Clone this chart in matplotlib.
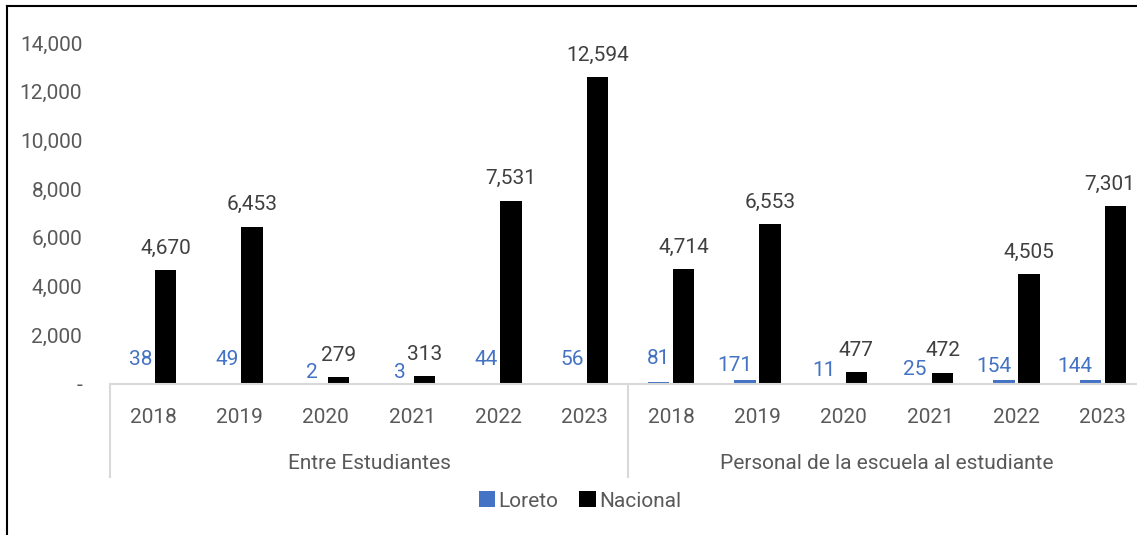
import numpy as np
import matplotlib
matplotlib.use("Agg")
from matplotlib import pyplot as plt
from matplotlib.lines import Line2D
import matplotlib.transforms as mtransforms

plt.rcParams['font.family'] = ['Roboto', 'DejaVu Sans']

# data
years = ['2018', '2019', '2020', '2021', '2022', '2023']
groups = ['Entre Estudiantes', 'Personal de la escuela al estudiante']
loreto = [38, 49, 2, 3, 44, 56, 81, 171, 11, 25, 154, 144]
nacional = [4670, 6453, 279, 313, 7531, 12594, 4714, 6553, 477, 472, 4505, 7301]
yticks = [0, 2000, 4000, 6000, 8000, 10000, 12000, 14000]

# label nudges (points) as placed by hand in the original chart
loreto_dx = [0, 0, -1, 0, 0, 0, 0, -7, -5, -2, -7, -11]
loreto_dy = [10, 10, 1.5, 1.5, 10, 10, 10, 3.6, 3, 3, 3, 3]
nacional_dx = [0] * 11 + [-4]

blue = '#4472C4'
grey_txt = '#595959'
dark_txt = '#404040'
line_col = '#D9D9D9'

fig = plt.figure(figsize=(11.37, 5.35), dpi=100)
ax = fig.add_axes([110/1137, 151/535, 1036/1137, 341/535])

x = np.arange(len(loreto))
w = 0.245
off = 0.145
b1 = ax.bar(x - off, loreto, w, color=blue, label='Loreto')
b2 = ax.bar(x + off, nacional, w, color='black', label='Nacional')

for xi, v, dx, dy in zip(x - off, loreto, loreto_dx, loreto_dy):
    ax.annotate(f'{v:,}', (xi, v), xytext=(dx, dy), textcoords='offset points',
                ha='center', va='bottom', fontsize=15, color=blue)
for xi, v, dx in zip(x + off, nacional, nacional_dx):
    ax.annotate(f'{v:,}', (xi, v), xytext=(dx, 9), textcoords='offset points',
                ha='center', va='bottom', fontsize=15, color=dark_txt)

ax.set_xlim(-0.5, len(loreto) - 0.5)
ax.set_ylim(0, 14000)
ax.set_yticks(yticks)
ax.set_yticklabels(['-' if t == 0 else f'{t:,}' for t in yticks])
ax.tick_params(axis='y', length=0, pad=20, labelsize=15, labelcolor=grey_txt)
ax.set_xticks([])
for s in ['left', 'right', 'top']:
    ax.spines[s].set_visible(False)
ax.spines['bottom'].set_color(line_col)
ax.spines['bottom'].set_linewidth(1.5)

# multi-level category axis
trans = mtransforms.blended_transform_factory(ax.transData, ax.transAxes)
for i, yr in enumerate(years * 2):
    ax.text(i, -0.098, yr, transform=trans, ha='center', va='center',
            fontsize=15, color=grey_txt)
for g, name in enumerate(groups):
    ax.text(g * 6 + 2.5, -0.232, name, transform=trans, ha='center', va='center',
            fontsize=15, color=grey_txt)
for xb in [-0.5, 5.5, 11.5]:
    ax.plot([xb, xb], [0, -0.273], transform=trans, color=line_col, lw=1.5,
            clip_on=False)

fig.legend(handles=[b1, b2], labels=['Loreto', 'Nacional'], loc='center',
           bbox_to_anchor=(580/1137, 34/535), ncol=2, frameon=False,
           fontsize=15, handlelength=0.8, handleheight=0.8, handletextpad=0.15,
           columnspacing=1.0, labelcolor=grey_txt)

# chart border (left and top edges visible)
fig.add_artist(Line2D([7/1137, 7/1137], [0, 529/535], color='black', lw=1.5,
                      transform=fig.transFigure))
fig.add_artist(Line2D([7/1137, 1], [529/535, 529/535], color='black', lw=1.5,
                      transform=fig.transFigure))

fig.savefig('out.png', dpi=100)
